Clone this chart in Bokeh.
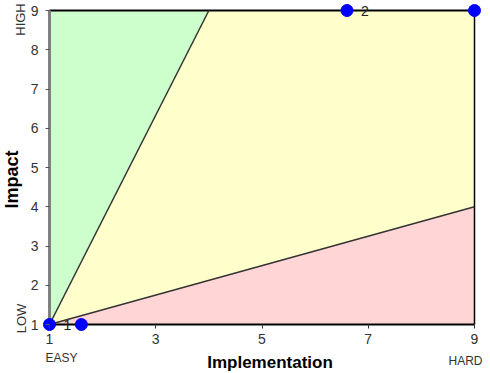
import math
from bokeh.plotting import figure
from bokeh.models import Label, FixedTicker, Range1d, LinearAxis
from bokeh.embed import file_html
from bokeh.resources import INLINE

# ---- data ----
x_ticks = [1, 3, 5, 7, 9]
y_ticks = [1, 2, 3, 4, 5, 6, 7, 8, 9]
green_x = [1, 1, 4]
green_y = [1, 9, 9]
yellow_x = [1, 4, 9, 9]
yellow_y = [1, 9, 9, 4]
red_x = [1, 9, 9]
red_y = [1, 4, 1]
upper_x = [1, 4]
upper_y = [1, 9]
lower_x = [1, 9]
lower_y = [1, 4]
point_x = [1, 1.6, 6.6, 9]
point_y = [1, 1, 9, 9]
point_labels = ["1", "", "2", ""]

FONT = "Liberation Sans"
W, H = 490, 373
# layout: data 1..9 -> 49..474 px (x) and 324..10 px (y); frame fills the canvas
X0, X1, Y0, Y1 = 49, 474, 324, 10
PX = (X1 - X0) / 8.0
PY = (Y0 - Y1) / 8.0
p = figure(width=W, height=H, output_backend="svg", toolbar_location=None,
           x_range=Range1d(1 - X0 / PX, 1 + (W - X0) / PX),
           y_range=Range1d(1 - (H - Y0) / PY, 1 + Y0 / PY),
           x_axis_location=None, y_axis_location=None, min_border=0)
p.grid.visible = False
p.outline_line_color = None

p.patch(green_x, green_y, fill_color="#CCFFCC", line_color=None)
p.patch(yellow_x, yellow_y, fill_color="#FFFFCC", line_color=None)
p.patch(red_x, red_y, fill_color="#FFD5D5", line_color=None)

# plot-area borders
p.line([1, 9], [9, 9], line_color="black", line_width=2)
p.line([9, 9], [1, 9], line_color="black", line_width=1.5)
p.line([1, 9], [1, 1], line_color="black", line_width=2)
p.line([1, 1], [1, 9], line_color="#808080", line_width=3)

p.line(upper_x, upper_y, line_color="#333333", line_width=1.5)
p.line(lower_x, lower_y, line_color="#333333", line_width=1.5)

p.scatter(point_x, point_y, size=12, fill_color="#0000FF", line_color="#0000FF")
for x, y, t in zip(point_x, point_y, point_labels):
    if t:
        p.add_layout(Label(x=x, y=y, text=t, x_offset=14, text_baseline="middle",
                           text_font=FONT, text_font_size="14px", text_color="#222222"))

def base_axis(ax):
    ax.major_label_text_font = FONT
    ax.major_label_text_font_size = "14px"
    ax.major_label_text_color = "#333333"
    ax.minor_tick_line_color = None
    ax.axis_line_color = None
    ax.major_tick_in = 0
    ax.major_tick_out = 4
    return ax

yax = base_axis(LinearAxis(ticker=FixedTicker(ticks=y_ticks), fixed_location=1))
yax.major_tick_line_color = "#555555"
yax.major_label_standoff = 7
p.add_layout(yax, "left")

xax = base_axis(LinearAxis(ticker=FixedTicker(ticks=x_ticks), fixed_location=1))
xax.major_tick_line_color = "#333333"
xax.major_label_standoff = 5
p.add_layout(xax, "below")

def lab(x, y, text, xo=0, yo=0, size="12px", bold=False, angle=0):
    p.add_layout(Label(x=x, y=y, text=text, x_offset=xo, y_offset=yo,
                       text_font=FONT, text_font_size=size,
                       text_font_style="bold" if bold else "normal",
                       text_color="black" if bold else "#333333",
                       text_align="center", text_baseline="middle", angle=angle))

lab(5, 1, "Implementation", xo=8, yo=-38, size="17px", bold=True)
lab(1, 1, "EASY", xo=12, yo=-33, size="12px")
lab(9, 1, "HARD", xo=-9, yo=-36, size="12px")
lab(1, 1, "Impact", xo=-38, yo=145, size="18px", bold=True, angle=math.pi / 2)
lab(1, 1, "LOW", xo=-28, yo=6, size="13px", angle=math.pi / 2)
lab(1, 9, "HIGH", xo=-29, yo=-9, size="13px", angle=math.pi / 2)

open("out.html", "w").write(file_html(p, INLINE))
